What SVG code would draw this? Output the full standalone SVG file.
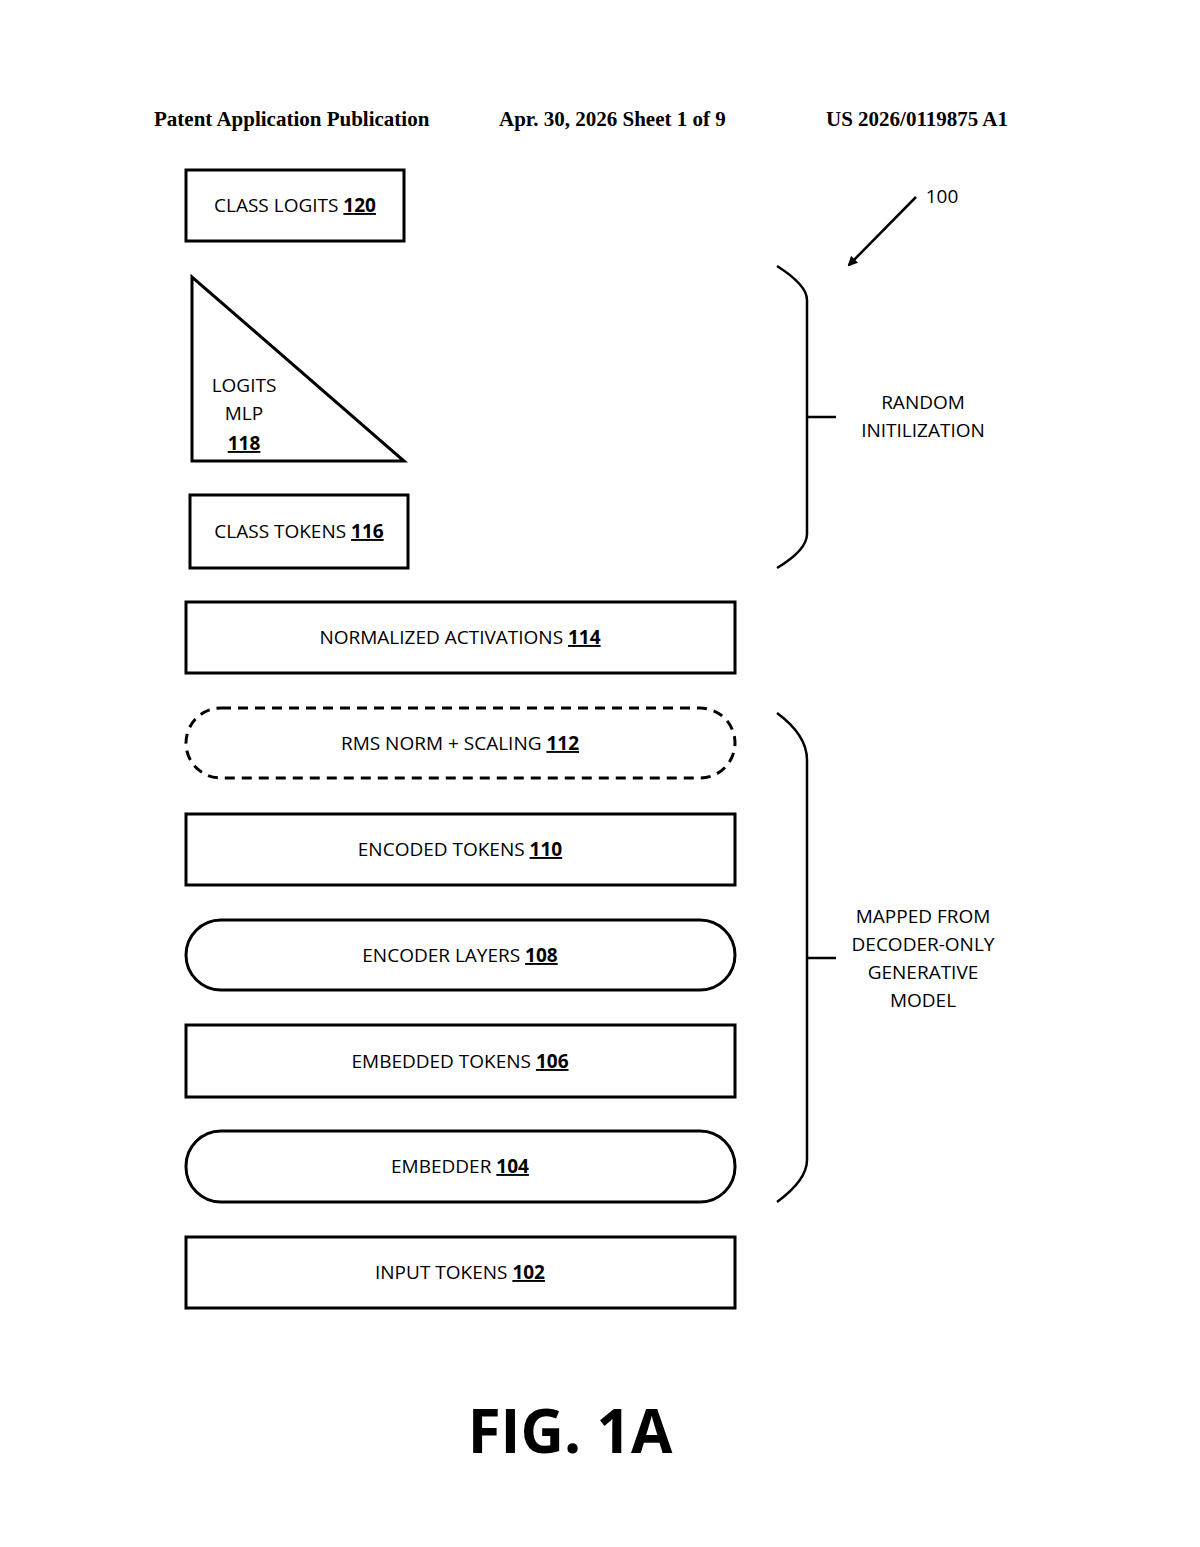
<svg xmlns="http://www.w3.org/2000/svg" width="1200" height="1547" viewBox="0 0 1200 1547">
<style>
.b{fill:none;stroke:#000;stroke-width:3}
.t{font-family:"Open Sans","Liberation Sans",sans-serif;font-size:19px;text-anchor:middle;fill:#000}
.n{font-weight:bold;text-decoration:underline}
.h{font-family:"Liberation Serif",serif;font-size:21px;font-weight:bold;fill:#000}
.l{fill:none;stroke:#000;stroke-width:2.5}
</style>
<defs><marker id="ah" markerWidth="10" markerHeight="10" refX="8" refY="5" orient="auto" markerUnits="userSpaceOnUse"><path d="M0,0 L10,5 L0,10 Z" fill="#000"/></marker></defs>
<rect width="1200" height="1547" fill="#fff"/>
<text class="h" x="154" y="126">Patent Application Publication</text>
<text class="h" x="499" y="126">Apr. 30, 2026  Sheet 1 of 9</text>
<text class="h" x="826" y="126">US 2026/0119875 A1</text>
<g id="n120"><rect class="b" x="186" y="170" width="218" height="71"/><text class="t" x="295" y="212">CLASS LOGITS <tspan class="n">120</tspan></text></g>
<g id="n118"><path class="b" d="M192,277 L192,461 L404,461 Z"/><text class="t" x="244" y="392">LOGITS</text><text class="t" x="244" y="420">MLP</text><text class="t n" x="244" y="450">118</text></g>
<g id="n116"><rect class="b" x="190" y="495" width="218" height="73"/><text class="t" x="299" y="538">CLASS TOKENS <tspan class="n">116</tspan></text></g>
<g id="n114"><rect class="b" x="186" y="602" width="549" height="71"/><text class="t" x="460" y="644">NORMALIZED ACTIVATIONS <tspan class="n">114</tspan></text></g>
<g id="n112"><rect class="b" x="186" y="708" width="549" height="70" rx="35" stroke-dasharray="10,7"/><text class="t" x="460" y="750">RMS NORM + SCALING <tspan class="n">112</tspan></text></g>
<g id="n110"><rect class="b" x="186" y="814" width="549" height="71"/><text class="t" x="460" y="856">ENCODED TOKENS <tspan class="n">110</tspan></text></g>
<g id="n108"><rect class="b" x="186" y="920" width="549" height="70" rx="35"/><text class="t" x="460" y="962">ENCODER LAYERS <tspan class="n">108</tspan></text></g>
<g id="n106"><rect class="b" x="186" y="1025" width="549" height="72"/><text class="t" x="460" y="1068">EMBEDDED TOKENS <tspan class="n">106</tspan></text></g>
<g id="n104"><rect class="b" x="186" y="1131" width="549" height="71" rx="35"/><text class="t" x="460" y="1173">EMBEDDER <tspan class="n">104</tspan></text></g>
<g id="n102"><rect class="b" x="186" y="1237" width="549" height="71"/><text class="t" x="460" y="1279">INPUT TOKENS <tspan class="n">102</tspan></text></g>
<g id="connectors">
<path class="l" d="M777,266 Q807,285 807,300 L807,534 Q807,550 777,568 M807,417 L836,417"/>
<path class="l" d="M777,713 Q807,735 807,760 L807,1160 Q807,1180 777,1202 M807,958 L836,958"/>
<line class="l" x1="916" y1="197" x2="849" y2="265" marker-end="url(#ah)"/>
</g>
<text class="t" x="942" y="203">100</text>
<text class="t" x="923" y="409">RANDOM</text>
<text class="t" x="923" y="437">INITILIZATION</text>
<text class="t" x="923" y="923">MAPPED FROM</text>
<text class="t" x="923" y="951">DECODER-ONLY</text>
<text class="t" x="923" y="979">GENERATIVE</text>
<text class="t" x="923" y="1007">MODEL</text>
<text x="570" y="1453" font-family="Open Sans,Liberation Sans,sans-serif" font-size="60" font-weight="bold" text-anchor="middle">FIG. 1A</text>
</svg>
